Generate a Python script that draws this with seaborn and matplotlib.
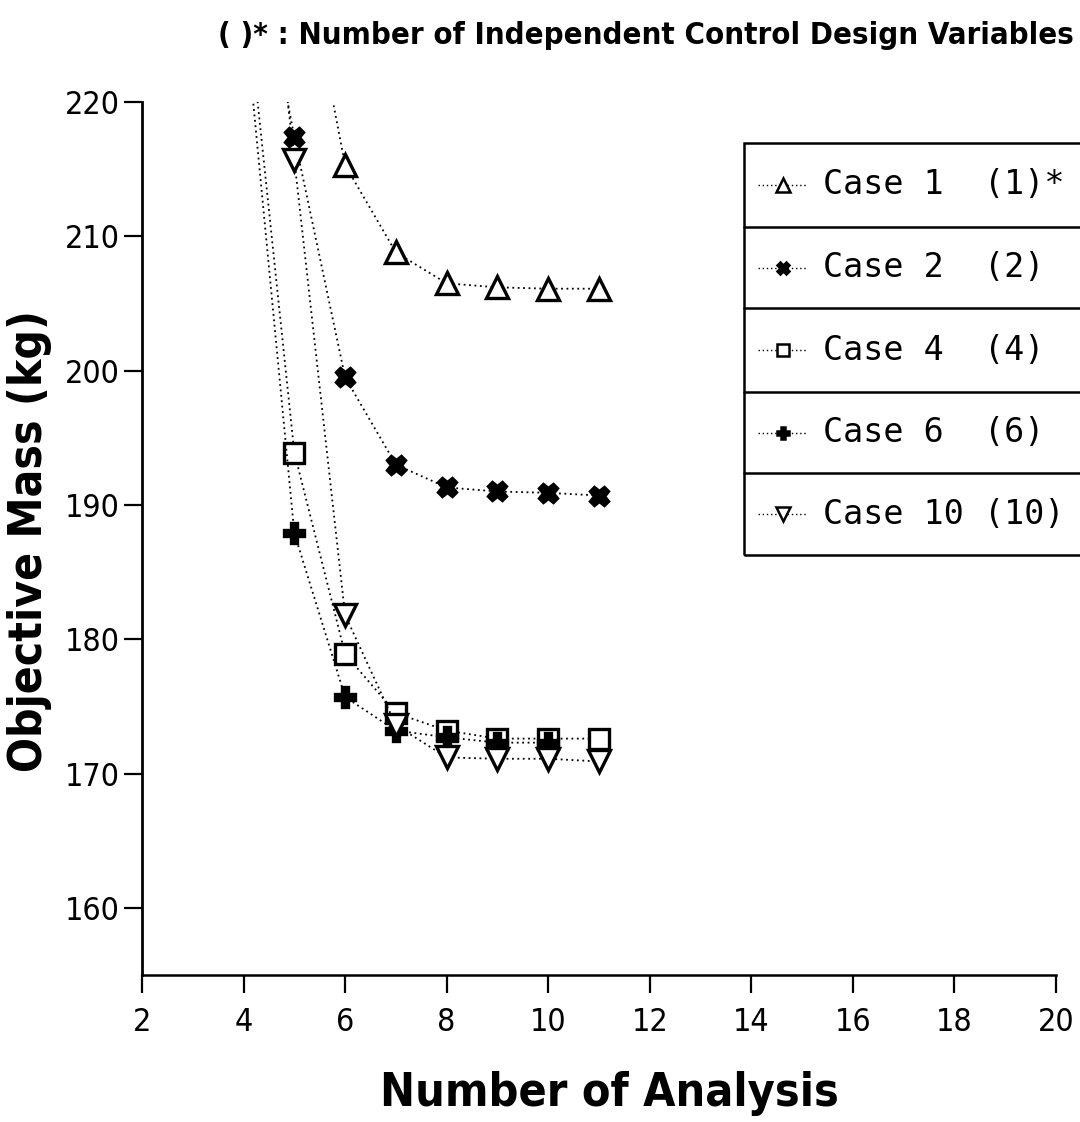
import numpy as np
import pandas as pd
import seaborn as sns
import matplotlib.pyplot as plt
from matplotlib.lines import Line2D
from matplotlib.patches import Rectangle

# ---------------- data ----------------
case1_x = [5, 6, 7, 8, 9, 10, 11]
case1_y = [235.0, 215.3, 208.8, 206.5, 206.2, 206.1, 206.1]

case2_x = [4, 5, 6, 7, 8, 9, 10, 11]
case2_y = [237.0, 217.4, 199.5, 193.0, 191.3, 191.0, 190.9, 190.7]

case4_x = [4, 5, 6, 7, 8, 9, 10, 11]
case4_y = [230.0, 193.9, 178.9, 174.5, 173.2, 172.6, 172.6, 172.6]

case6_x = [4, 5, 6, 7, 8, 9, 10]
case6_y = [227.5, 187.9, 175.7, 173.2, 172.7, 172.3, 172.3]

case10_x = [4, 5, 6, 7, 8, 9, 10, 11]
case10_y = [249.0, 215.7, 181.8, 173.6, 171.2, 171.1, 171.1, 170.9]

case_labels = ["Case 1  (1)*", "Case 2  (2)", "Case 4  (4)", "Case 6  (6)", "Case 10 (10)"]
x_ticks = [2, 4, 6, 8, 10, 12, 14, 16, 18, 20]
y_ticks = [160, 170, 180, 190, 200, 210, 220]

title_text = "( )* : Number of Independent Control Design Variables"
x_label = "Number of Analysis"
y_label = "Objective Mass (kg)"

# ---------------- style ----------------
sns.set_style("ticks")
plt.rcParams['font.family'] = ['DejaVu Sans']
plt.rcParams['font.stretch'] = 'condensed'
for k in ['text.color', 'axes.labelcolor', 'xtick.color', 'ytick.color', 'axes.edgecolor']:
    plt.rcParams[k] = 'black'

W, H = 1080, 1122
fig = plt.figure(figsize=(W / 100, H / 100), dpi=100)
L, R, T, B = 142, 1056, 102, 975
ax = fig.add_axes([L / W, 1 - B / H, (R - L) / W, (B - T) / H])

series = [
    (case1_x, case1_y, '^', 16, 'white'),
    (case2_x, case2_y, 'X', 13, 'black'),
    (case4_x, case4_y, 's', 14, 'white'),
    (case6_x, case6_y, 'P', 14, 'black'),
    (case10_x, case10_y, 'v', 16, 'white'),
]
dot = (0, (1, 2))
for xs, ys, m, ms, fc in series:
    df = pd.DataFrame({"x": xs, "y": ys})
    sns.lineplot(data=df, x="x", y="y", ax=ax, estimator=None, sort=False,
                 color='black', linestyle=dot, linewidth=1.3,
                 marker=m, markersize=ms, markerfacecolor=fc,
                 markeredgecolor='black', markeredgewidth=2.4, legend=False)

ax.set_xlim(2, 20)
ax.set_ylim(155, 220)
ax.set_xticks(x_ticks)
ax.set_yticks(y_ticks)
ax.set_xlabel("")
ax.set_ylabel("")
for s in ['top', 'right']:
    ax.spines[s].set_visible(False)
ax.spines['left'].set_linewidth(2.0)
ax.spines['bottom'].set_linewidth(1.8)
ax.tick_params(axis='both', direction='out', length=13, width=1.6,
               labelsize=23, colors='black')
ax.tick_params(axis='x', pad=10)
ax.tick_params(axis='y', pad=3)
for lab in ax.get_xticklabels() + ax.get_yticklabels():
    lab.set_fontstretch('condensed')

# axis labels
fig.text(609 / W, 1 - 1094 / H, x_label, ha='center', va='center',
         fontsize=33.5, fontweight='bold', color='black')
fig.text(30 / W, 1 - 541 / H, y_label, ha='center', va='center',
         rotation=90, fontsize=33, fontweight='bold', color='black')
# title
fig.text(646 / W, 1 - 36 / H, title_text, ha='center', va='center',
         fontsize=22.3, fontweight='bold', color='black')

# ---------------- legend (boxed table, cut by the right edge) ----------------
lx0, lx1 = 744, 1110
rows = [143, 227, 308, 392, 473, 555]
tr = fig.transFigure
def fx(px):
    return px / W
def fy(py):
    return 1 - py / H
fig.add_artist(Rectangle((fx(lx0), fy(rows[-1])), fx(lx1) - fx(lx0), fy(rows[0]) - fy(rows[-1]),
                         transform=tr, fill=False, edgecolor='black', linewidth=1.8,
                         clip_on=False))
for r in rows[1:-1]:
    fig.add_artist(Line2D([fx(lx0), fx(lx1)], [fy(r), fy(r)], transform=tr,
                          color='black', linewidth=1.8))
for i, (lab, (xs, ys, m, ms, fc)) in enumerate(zip(case_labels, series)):
    cy = (rows[i] + rows[i + 1]) / 2
    fig.add_artist(Line2D([fx(758), fx(806)], [fy(cy), fy(cy)], transform=tr,
                          color='black', linestyle=dot, linewidth=1.0))
    fig.add_artist(Line2D([fx(783)], [fy(cy)], transform=tr, marker=m,
                          markersize=ms * 0.62, markerfacecolor=fc,
                          markeredgecolor='black', markeredgewidth=1.8, linestyle='none'))
    fig.text(fx(823), fy(cy), lab, ha='left', va='center', fontsize=24,
             family='DejaVu Sans Mono', fontstretch='normal', color='black')

fig.savefig("out.png", dpi=100, facecolor='white')
